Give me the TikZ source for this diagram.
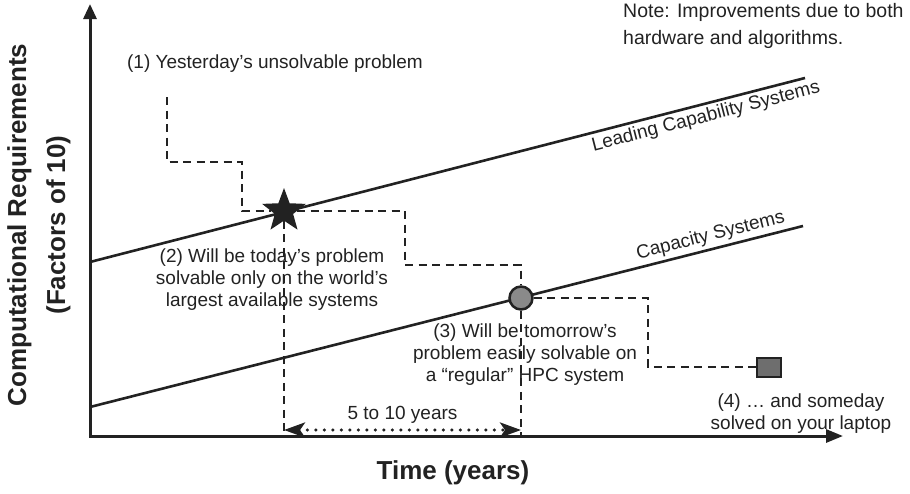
\documentclass[tikz,border=0pt]{standalone}
\usepackage{fontspec}
\setmainfont{Liberation Sans}
\usepackage{xcolor}
\definecolor{Ink}{HTML}{222222}
\definecolor{Stone}{HTML}{8A8A8A}
\definecolor{Slate}{HTML}{6E6E6E}
\usetikzlibrary{arrows.meta,positioning,shapes.geometric,calc}
\tikzset{
  axisline/.style={line width=3pt,draw=Ink,line join=miter,
    {Triangle[length=15pt,width=13pt]}-{Triangle[length=17pt,width=13pt]}},
  trend/.style={line width=2.6pt,draw=Ink},
  guide/.style={line width=1.5pt,draw=Ink,dash pattern=on 8pt off 5.5pt},
  yearspan/.style={line width=3.4pt,draw=Ink,line cap=round,dash pattern=on 0pt off 8.5pt,
    {Stealth[length=21pt,width=15pt,inset=5pt]}-{Stealth[length=21pt,width=15pt,inset=5pt]}},
  label/.style={font=\fontsize{19}{22}\selectfont,text=Ink,align=center,inner sep=2pt},
  bigtitle/.style={font=\fontsize{26}{39}\selectfont\bfseries,text=Ink,align=center},
  starmark/.style={star,star points=5,star point ratio=2.4,fill=Ink,minimum size=46pt,inner sep=0pt},
  dotmark/.style={circle,draw=Ink,line width=2.5pt,fill=Stone,minimum size=23pt,inner sep=0pt},
  boxmark/.style={rectangle,draw=Ink,line width=2pt,fill=Slate,minimum width=24pt,minimum height=19pt,inner sep=0pt}
}
\begin{document}
\begin{tikzpicture}[x=1pt,y=-1pt]
  \useasboundingbox (0,0) rectangle (910,493);
  \coordinate (O) at (90,436);
  \coordinate (ytop) at (90,4);
  \coordinate (xend) at (843,436);
  \draw[axisline] (ytop) -- (O) -- (xend);

  \draw[trend] (90,262) -- (805,78)
    node[label,pos=0.857,below=1pt,sloped] (lead) {Leading Capability Systems};
  \draw[trend] (90,407) -- (803,226)
    node[label,pos=0.875,above=1pt,sloped] (cap) {Capacity Systems};

  \node[starmark] (star) at (284,211) {};
  \node[dotmark] (circ) at (521,298) {};
  \node[boxmark] (laptop) at (769,367) {};

  \coordinate (q1) at (167,97);
  \draw[guide] (q1) |- (242,162) |- (star);
  \draw[guide] (star) -| (405,265) -| (circ);
  \draw[guide] (circ) -| (648,367) -- (laptop);
  \draw[guide] (star) -- (star |- O);
  \draw[guide] (circ) -- (circ |- O);

  \coordinate (spanl) at (284,430);
  \coordinate (spanr) at (521,430);
  \draw[yearspan] (spanl) -- (spanr)
    node[label,midway,above=3pt] (years) {5 to 10 years};

  \node[label] (yest) at (275,64) {(1) Yesterday's unsolvable problem};
  \node[label] (today) at (272,280)
    {(2) Will be today's problem\\solvable only on the world's\\largest available systems};
  \node[label] (tomorrow) at (525,355)
    {(3) Will be tomorrow's\\problem easily solvable on\\a ``regular'' HPC system};
  \node[label] (someday) at (801,414) {(4) \dots{} and someday\\solved on your laptop};
  \node[label,anchor=north west,align=left,font=\fontsize{19.5}{27}\selectfont] (note) at (621,1)
    {Note: Improvements due to both\\hardware and algorithms.};

  \node[bigtitle,rotate=90] (ylab) at (39,225) {Computational Requirements\\(Factors of 10)};
  \node[bigtitle] (xlab) at (453,473) {Time (years)};
\end{tikzpicture}
\end{document}
